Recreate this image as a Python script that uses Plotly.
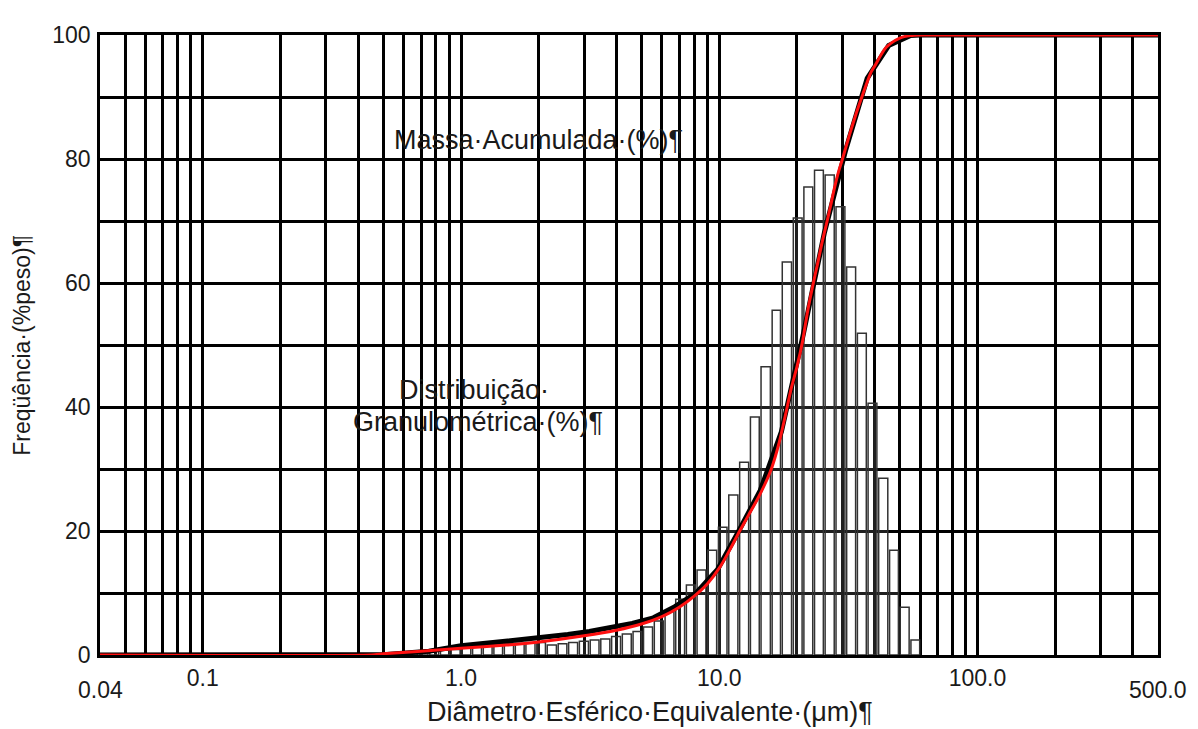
import math
import plotly.graph_objects as go

# Particle-size classes (µm): lower/upper edges of the 50 sedimentation classes
bin_edges = [0.513, 0.565, 0.621, 0.683, 0.751, 0.826, 0.909, 1.0, 1.1, 1.21,
             1.33, 1.46, 1.61, 1.77, 1.95, 2.14, 2.36, 2.59, 2.85, 3.14,
             3.45, 3.80, 4.18, 4.60, 5.05, 5.56, 6.12, 6.73, 7.40, 8.14,
             8.95, 9.85, 10.8, 11.9, 13.1, 14.4, 15.9, 17.4, 19.2, 21.1,
             23.2, 25.5, 28.1, 30.9, 34.0, 37.4, 41.1, 45.3, 49.8, 54.8, 60.2]

# Relative frequency per class (%)
freq = [0.3, 0.4, 0.5, 0.6, 0.7, 0.8, 0.9, 1.1, 1.3, 1.5,
        1.6, 1.8, 1.9, 2.0, 2.0, 1.6, 1.8, 2.0, 2.2, 2.4,
        2.6, 3.0, 3.4, 3.8, 4.5, 5.5, 7.0, 9.0, 11.3, 13.7,
        16.9, 20.6, 25.8, 31.1, 38.4, 46.5, 55.6, 63.4, 70.5, 75.5,
        78.2, 77.4, 72.3, 62.6, 51.9, 40.6, 28.5, 16.9, 7.7, 2.4]

# Measured cumulative mass (%) at selected class edges
cum_meas_d = [0.04, 0.513, 0.751, 1.0, 1.33, 1.77, 2.14, 2.59, 3.14, 3.80,
              4.60, 5.56, 6.73, 8.14, 9.85, 11.9, 14.4, 17.4, 21.1, 25.5,
              30.9, 37.4, 45.3, 54.8, 60.2, 500.0]
cum_meas = [0.0, 0.1, 0.6, 1.5, 2.0, 2.5, 2.9, 3.3, 3.8, 4.4,
            5.1, 6.0, 7.8, 10.0, 13.8, 20.0, 26.5, 36.0, 51.5, 68.0,
            81.5, 93.0, 98.3, 99.9, 100.0, 100.0]

# Smoothed cumulative mass curve (%)
cum_fit_d = [0.04, 0.45, 0.5, 0.7, 1.0, 1.5, 2.0, 3.0, 4.0, 5.0,
             6.0, 7.0, 8.0, 9.0, 10.0, 11.0, 12.0, 13.0, 14.0, 15.0,
             16.0, 17.0, 18.0, 19.0, 20.0, 21.0, 22.0, 23.0, 24.0, 25.0,
             26.0, 27.0, 28.0, 29.0, 30.0, 32.0, 34.0, 36.0, 38.6, 40.0,
             43.5, 46.0, 50.0, 55.0, 60.0, 500.0]
cum_fit = [0.0, 0.0, 0.2, 0.6, 1.1, 1.6, 2.1, 3.1, 4.0, 5.0,
           6.2, 7.7, 9.5, 11.5, 14.0, 17.0, 20.0, 22.6, 25.0, 27.5,
           30.3, 34.0, 38.5, 43.0, 46.5, 50.5, 55.5, 59.5, 63.0, 66.5,
           69.5, 72.5, 75.5, 78.0, 80.0, 84.0, 87.5, 90.5, 93.9, 95.0,
           97.6, 98.6, 99.5, 99.9, 100.0, 100.0]

# Axis labelling
x_min, x_max = 0.04, 500.0
x_labels = {0.1: "0.1", 1.0: "1.0", 10.0: "10.0", 100.0: "100.0"}
x_end_labels = {0.04: "0.04", 500.0: "500.0"}
y_labels = {0: "0", 20: "20", 40: "40", 60: "60", 80: "80", 100: "100"}

FONT = "Liberation Sans, Arial, sans-serif"
TXT = "#1a1a1a"
GRID = "#000000"

# Log grid: every integer multiple within each decade
x_grid = []
for dec in (0.01, 0.1, 1.0, 10.0, 100.0):
    for m in range(1, 10):
        v = round(m * dec, 6)
        if x_min - 1e-9 <= v <= x_max + 1e-9:
            x_grid.append(v)
x_text = [x_labels.get(v, "") for v in x_grid]

y_grid = list(range(0, 101, 10))
y_text = [y_labels.get(v, "") for v in y_grid]

# Histogram drawn as outlined rectangles on the log axis (grid stays visible)
gap = 1.008
bx, by = [], []
for i, h in enumerate(freq):
    lo, hi = bin_edges[i] * gap, bin_edges[i + 1] / gap
    bx += [lo, lo, hi, hi, lo, None]
    by += [0, h, h, 0, 0, None]

fig = go.Figure()
fig.add_trace(go.Scatter(
    x=bx, y=by, mode="lines", fill="toself", fillcolor="rgba(255,255,255,0.12)",
    line=dict(color="#333333", width=1.5), hoverinfo="skip", showlegend=False))
fig.add_trace(go.Scatter(
    x=cum_meas_d, y=cum_meas, mode="lines", line=dict(color="#000000", width=5),
    showlegend=False))
fig.add_trace(go.Scatter(
    x=cum_fit_d, y=cum_fit, mode="lines",
    line=dict(color="#ff1010", width=3, shape="spline", smoothing=0.6),
    showlegend=False))

fig.update_xaxes(
    type="log", range=[math.log10(x_min), math.log10(x_max)],
    tickmode="array", tickvals=x_grid, ticktext=x_text, ticks="",
    showgrid=True, gridcolor=GRID, gridwidth=2.5,
    showline=True, linecolor=GRID, linewidth=2.5, mirror=True,
    tickfont=dict(family=FONT, size=23, color=TXT), ticklabelstandoff=1,
    zeroline=False)
fig.update_yaxes(
    range=[0, 100], tickmode="array", tickvals=y_grid, ticktext=y_text, ticks="",
    showgrid=True, gridcolor=GRID, gridwidth=2.5,
    showline=True, linecolor=GRID, linewidth=2.5, mirror=True,
    tickfont=dict(family=FONT, size=23, color=TXT), ticklabelstandoff=2,
    zeroline=False)

annotations = []
for v, t in x_end_labels.items():
    annotations.append(dict(x=math.log10(v), y=-0.056, xref="x", yref="paper", text=t,
                            showarrow=False, font=dict(family=FONT, size=23, color=TXT),
                            xanchor="center", yanchor="middle"))
annotations += [
    dict(x=0.52, y=-0.092, xref="paper", yref="paper",
         text="Diâmetro·Esférico·Equivalente·(μm)¶", showarrow=False,
         font=dict(family=FONT, size=27, color=TXT), xanchor="center", yanchor="middle"),
    dict(x=-0.074, y=0.5, xref="paper", yref="paper", textangle=-90,
         text="Freqüência·(%peso)¶", showarrow=False,
         font=dict(family=FONT, size=23, color=TXT), xanchor="center", yanchor="middle"),
    dict(x=0.30, y=83.1, xref="x", yref="y", text="Massa·Acumulada·(%)¶", showarrow=False,
         font=dict(family=FONT, size=27, color=TXT), xanchor="center", yanchor="middle"),
    dict(x=0.05, y=42.7, xref="x", yref="y", text="Distribuição·", showarrow=False,
         font=dict(family=FONT, size=27, color=TXT), xanchor="center", yanchor="middle"),
    dict(x=0.066, y=37.6, xref="x", yref="y", text="Granulométrica·(%)¶", showarrow=False,
         font=dict(family=FONT, size=27, color=TXT), xanchor="center", yanchor="middle"),
]

fig.update_layout(
    width=1198, height=729,
    margin=dict(l=100, r=40, t=35, b=74, autoexpand=False),
    paper_bgcolor="white", plot_bgcolor="white",
    annotations=annotations, showlegend=False)

fig.write_html("out.html", config={"displayModeBar": False})
